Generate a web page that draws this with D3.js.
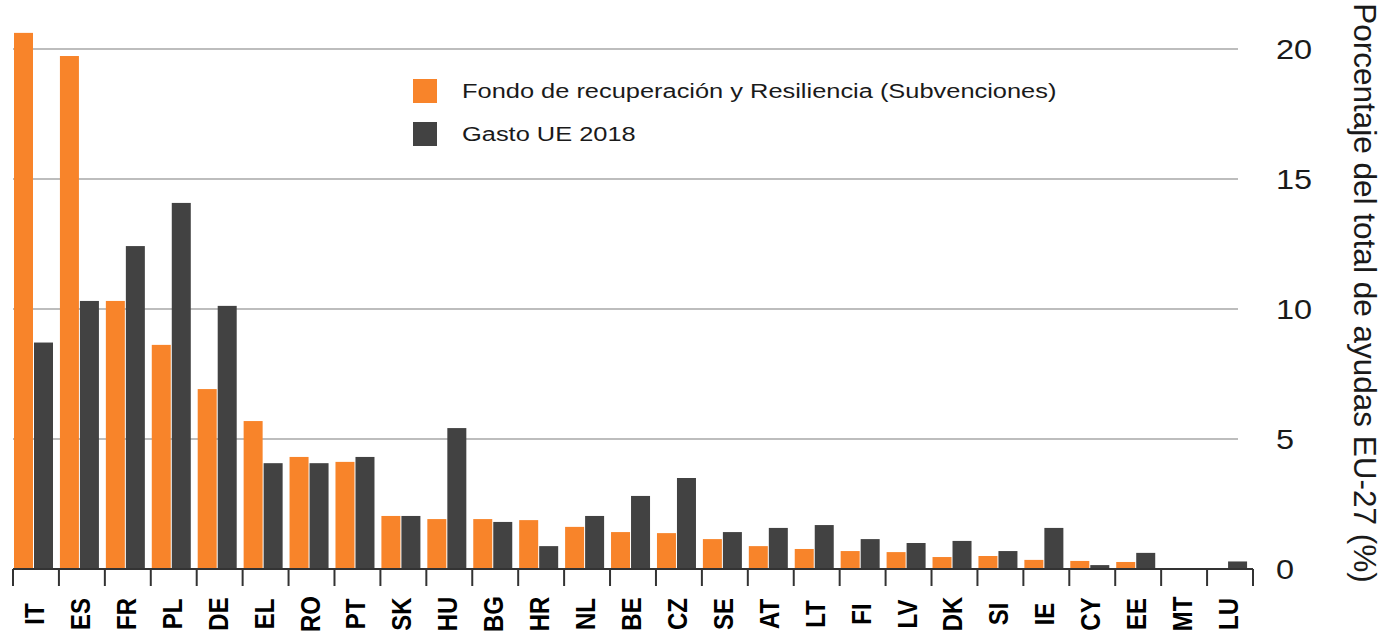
<!DOCTYPE html>
<html lang="es">
<head>
    <meta charset="UTF-8">
    <title>Reparto de ayudas EU-27</title>
    <style>
        body { margin: 0; background: #fff; }
        text { font-family: "Liberation Sans", Arial, sans-serif; fill: #1a1a1a; }
        .rejilla { stroke: #bdbdbd; stroke-width: 2px; }
        .eje line, .eje path { stroke: #333; stroke-width: 2px; }
    </style>
    <script src="https://d3js.org/d3.v7.min.js"></script>
</head>
<body>
<script>
// Paises (orden del grafico)
var paises = ["IT","ES","FR","PL","DE","EL","RO","PT","SK","HU","BG","HR","NL","BE",
              "CZ","SE","AT","LT","FI","LV","DK","SI","IE","CY","EE","MT","LU"];

// Fondo de recuperacion y Resiliencia (subvenciones), % del total
var fondoRR = [20.62, 19.73, 10.31, 8.62, 6.92, 5.69, 4.31, 4.12, 2.04, 1.92, 1.92, 1.88, 1.62, 1.42,
               1.38, 1.15, 0.88, 0.77, 0.69, 0.65, 0.46, 0.50, 0.35, 0.31, 0.27, 0.02, 0.03];

// Gasto UE 2018, % del total
var gastoUE = [8.71, 10.31, 12.42, 14.08, 10.12, 4.07, 4.07, 4.31, 2.04, 5.42, 1.81, 0.88, 2.04, 2.81,
               3.50, 1.42, 1.58, 1.69, 1.15, 1.00, 1.08, 0.69, 1.58, 0.15, 0.62, 0.02, 0.29];

var series = ["Fondo de recuperación y Resiliencia (Subvenciones)", "Gasto UE 2018"];
var colores = ["#f8842a", "#424242"];
var ticksY = [0, 5, 10, 15, 20];
var tituloY = "Porcentaje del total de ayudas EU-27 (%)";

var ancho = 1389, alto = 633;

var svg = d3.select("body").append("svg")
    .attr("width", ancho)
    .attr("height", alto);

// escalas
var escala_x = d3.scaleBand().domain(paises).range([13, 1253]);
var escala_serie = d3.scaleBand().domain([0, 1]).range([1, 41]);
var escala_y = d3.scaleLinear().domain([0, 20]).range([569, 49]);

// rejilla horizontal
svg.append("g").selectAll("line")
    .data(ticksY.filter(function(d) { return d > 0; }))
    .join("line")
    .attr("class", "rejilla")
    .attr("x1", 13).attr("x2", 1238)
    .attr("y1", function(d) { return escala_y(d); })
    .attr("y2", function(d) { return escala_y(d); });

// barras
var datos = paises.map(function(p, i) { return {pais: p, valores: [fondoRR[i], gastoUE[i]]}; });

var grupos = svg.append("g").selectAll("g")
    .data(datos)
    .join("g")
    .attr("transform", function(d) { return "translate(" + escala_x(d.pais) + ",0)"; });

grupos.selectAll("rect")
    .data(function(d) { return d.valores.map(function(v, j) { return {j: j, v: v}; }); })
    .join("rect")
    .attr("x", function(d) { return escala_serie(d.j); })
    .attr("width", escala_serie.bandwidth() - 1)
    .attr("y", function(d) { return escala_y(d.v); })
    .attr("height", function(d) { return escala_y(0) - escala_y(d.v); })
    .attr("fill", function(d) { return colores[d.j]; });

// eje x: linea + marcas en los limites de cada pais
var ejeX = svg.append("g").attr("class", "eje");
ejeX.append("line")
    .attr("x1", escala_x.range()[0]).attr("x2", escala_x.range()[1])
    .attr("y1", escala_y(0)).attr("y2", escala_y(0));
ejeX.selectAll("line.marca")
    .data(paises.map(function(p) { return escala_x(p); }).concat([escala_x.range()[1]]))
    .join("line")
    .attr("class", "marca")
    .attr("x1", function(d) { return d; }).attr("x2", function(d) { return d; })
    .attr("y1", escala_y(0)).attr("y2", escala_y(0) + 17);

// etiquetas de paises (giradas)
svg.append("g").selectAll("text")
    .data(paises)
    .join("text")
    .attr("transform", function(d) {
        return "translate(" + (escala_x(d) + escala_x.bandwidth() / 2 + 8) + ",614) rotate(-90) scale(1,1.12)";
    })
    .attr("text-anchor", "middle")
    .style("font-size", "24px")
    .style("font-weight", "bold")
    .style("fill", "#000")
    .text(function(d) { return d; });

// eje y a la derecha
var ejeY = svg.append("g")
    .attr("transform", "translate(1276,0)")
    .call(d3.axisRight(escala_y).tickValues(ticksY).tickSize(0));
ejeY.select(".domain").remove();
ejeY.selectAll("text")
    .attr("x", 0)
    .attr("dy", "0.33em")
    .attr("transform", "scale(1.16,1)")
    .style("font-size", "28px")
    .style("font-family", "'Liberation Sans', Arial, sans-serif")
    .style("fill", "#1a1a1a");

// titulo del eje y
svg.append("text")
    .attr("transform", "translate(1354,293) rotate(90)")
    .attr("text-anchor", "middle")
    .style("font-size", "31.5px")
    .text(tituloY);

// leyenda
var leyenda = svg.append("g").selectAll("g")
    .data(series)
    .join("g")
    .attr("transform", function(d, i) { return "translate(413," + (79 + i * 43) + ")"; });
leyenda.append("rect")
    .attr("width", 24).attr("height", 24)
    .attr("fill", function(d, i) { return colores[i]; });
leyenda.append("text")
    .attr("transform", "translate(49,12) scale(1.27,1)")
    .attr("dy", "0.36em")
    .style("font-size", "20px")
    .text(function(d) { return d; });
</script>
</body>
</html>
